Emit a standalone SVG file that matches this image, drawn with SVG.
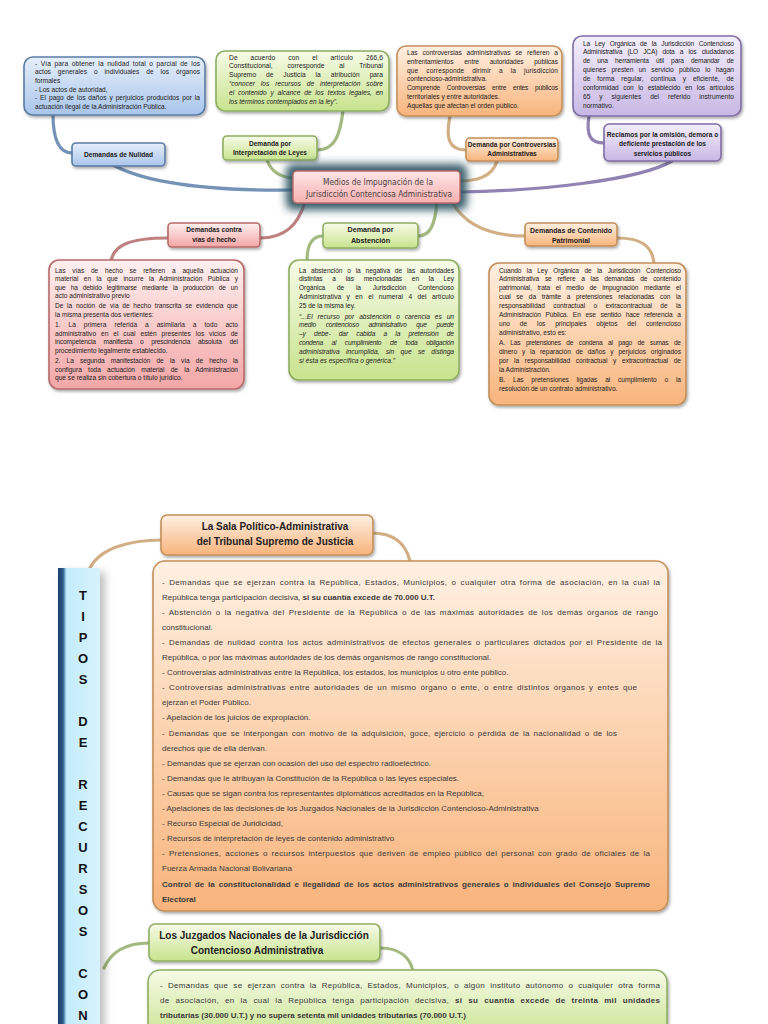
<svg xmlns="http://www.w3.org/2000/svg" width="768" height="1024" viewBox="0 0 768 1024">
<style>
.t{font-family:"Liberation Sans",Arial,sans-serif;font-size:6.6px;fill:#222}
.i{font-style:italic}
.lb{font-family:"Liberation Sans",Arial,sans-serif;font-size:6.6px;font-weight:bold;fill:#1a1a1a;text-anchor:middle}
.ct{font-family:"DejaVu Sans Condensed","Liberation Sans",sans-serif;font-size:8.6px;fill:#4a4040;text-anchor:middle}
.bt{font-family:"Liberation Sans",Arial,sans-serif;font-size:8px;fill:#3a3a3a}
.hd{font-family:"Liberation Sans",Arial,sans-serif;font-size:10px;font-weight:bold;fill:#222;text-anchor:middle}
.col{font-family:"Liberation Sans",Arial,sans-serif;font-size:13px;font-weight:900;fill:#111;text-anchor:middle}
.b{font-weight:bold}
.j{word-spacing:1.5px}
.c{fill:none;stroke-width:3.2;stroke-linecap:round;opacity:.85}
.cb{stroke:#5b7fa8}.cg{stroke:#93ad6a}.co{stroke:#c9a06e}.cp{stroke:#7c6ca4}.cr{stroke:#b46a6a}
.nb{fill:url(#gB);stroke:#5b7ca6;stroke-width:1.6;filter:url(#sh)}
.ng{fill:url(#gG);stroke:#8fae62;stroke-width:1.6;filter:url(#sh)}
.no{fill:url(#gO);stroke:#c48f5a;stroke-width:1.6;filter:url(#sh)}
.np{fill:url(#gP);stroke:#7f6ea6;stroke-width:1.6;filter:url(#sh)}
.nr{fill:url(#gR);stroke:#b86a6a;stroke-width:1.6;filter:url(#sh)}
</style>
<defs>
<filter id="sh" x="-10%" y="-10%" width="125%" height="135%"><feDropShadow dx="1.2" dy="1.8" stdDeviation="1.4" flood-color="#000" flood-opacity="0.35"/></filter>
<filter id="glow" x="-30%" y="-60%" width="160%" height="220%"><feGaussianBlur stdDeviation="4.5"/></filter>
<linearGradient id="gB" x1="0" y1="0" x2="0" y2="1"><stop offset="0" stop-color="#e6effb"/><stop offset="1" stop-color="#a9c5eb"/></linearGradient>
<linearGradient id="gG" x1="0" y1="0" x2="0" y2="1"><stop offset="0" stop-color="#f7fbe8"/><stop offset="1" stop-color="#c8e38e"/></linearGradient>
<linearGradient id="gO" x1="0" y1="0" x2="0" y2="1"><stop offset="0" stop-color="#fff0e2"/><stop offset="1" stop-color="#f8b47c"/></linearGradient>
<linearGradient id="gP" x1="0" y1="0" x2="0" y2="1"><stop offset="0" stop-color="#f4effb"/><stop offset="1" stop-color="#c8b7e5"/></linearGradient>
<linearGradient id="gR" x1="0" y1="0" x2="0" y2="1"><stop offset="0" stop-color="#fff0f0"/><stop offset="1" stop-color="#f3a6a6"/></linearGradient>
<linearGradient id="gC" x1="0" y1="0" x2="0" y2="1"><stop offset="0" stop-color="#ffe6e6"/><stop offset="1" stop-color="#f6b0b0"/></linearGradient>
<linearGradient id="gCol" x1="0" y1="0" x2="1" y2="0"><stop offset="0" stop-color="#1d3d6d"/><stop offset="0.12" stop-color="#2a5a8a"/><stop offset="0.2" stop-color="#c4ecfc"/><stop offset="1" stop-color="#d6f3fd"/></linearGradient>
</defs>
<rect width="768" height="1024" fill="#fff"/>

<g id="connectors">
<path class="c cb" d="M53,114 C53,140 60,153 72,153"/>
<path class="c cb" d="M113,165 C150,185 220,191 296,190"/>
<path class="c cg" d="M343,111 C340,135 335,150 317,150"/>
<path class="c cg" d="M267,160 C272,174 284,178 296,178"/>
<path class="c co" d="M450,116 C445,140 450,150 466,150"/>
<path class="c co" d="M497,161 C492,178 475,181 458,181"/>
<path class="c cp" d="M589,116 C586,135 590,143 604,143"/>
<path class="c cp" d="M672,161 C640,180 540,191 458,192"/>
<path class="c cr" d="M305,202 C298,225 285,238 260,238"/>
<path class="c cr" d="M168,238 C130,238 114,245 111,261"/>
<path class="c cg" d="M437,202 C435,225 430,236 418,236"/>
<path class="c cg" d="M323,236 C312,236 307,245 307,261"/>
<path class="c co" d="M452,202 C465,225 490,236 525,236"/>
<path class="c co" d="M617,238 C640,238 652,245 654,263"/>
<path class="c co" d="M90,568 C100,548 130,540 162,540"/>
<path class="c co" d="M372,533 C395,533 406,545 410,561"/>
<path class="c cg" d="M104,968 C112,950 128,943 149,943"/>
<path class="c cg" d="M380,948 C400,948 410,958 413,971"/>
</g>

<g id="n-nulidad-text">
<rect class="nb" x="24" y="57" width="181" height="58" rx="9"/>
<text class="t" x="35" y="65.5" style="word-spacing:1.5px" textLength="165" lengthAdjust="spacing">- Vía para obtener la nulidad total o parcial de los</text>
<text class="t" x="35" y="74.2" style="word-spacing:5px" textLength="165" lengthAdjust="spacing">actos generales o individuales de los órganos</text>
<text class="t" x="35" y="82.9">formales</text>
<text class="t" x="35" y="91.6">- Los actos de autoridad,</text>
<text class="t" x="35" y="100.3" style="word-spacing:1px" textLength="165" lengthAdjust="spacing">- El pago de los daños y perjuicios producidos por la</text>
<text class="t" x="35" y="109">actuación ilegal de la Administración Pública.</text>
</g>

<g id="n-interpretacion-text">
<rect class="ng" x="216" y="51" width="173" height="60" rx="9"/>
<text class="t" x="229" y="59.5" style="word-spacing:11px" textLength="154" lengthAdjust="spacing">De acuerdo con el artículo 266,6</text>
<text class="t" x="229" y="68.3" style="word-spacing:13px" textLength="154" lengthAdjust="spacing">Constitucional, corresponde al Tribunal</text>
<text class="t" x="229" y="77.1" style="word-spacing:8px" textLength="154" lengthAdjust="spacing">Supremo de Justicia la atribución para</text>
<text class="t i" x="229" y="85.9" style="word-spacing:4px" textLength="154" lengthAdjust="spacing">“conocer los recursos de interpretación sobre</text>
<text class="t i" x="229" y="94.7" style="word-spacing:2px" textLength="154" lengthAdjust="spacing">el contenido y alcance de los textos legales, en</text>
<text class="t i" x="229" y="103.5">los términos contemplados en la ley”.</text>
</g>

<g id="n-controversias-text">
<rect class="no" x="397" y="46" width="165" height="70" rx="9"/>
<text class="t" x="407" y="55" style="word-spacing:3px" textLength="151" lengthAdjust="spacing">Las controversias administrativas se refieren a</text>
<text class="t" x="407" y="63.8" style="word-spacing:9px" textLength="151" lengthAdjust="spacing">enfrentamientos entre autoridades públicas</text>
<text class="t" x="407" y="72.6" style="word-spacing:6px" textLength="151" lengthAdjust="spacing">que corresponde dirimir a la jurisdicción</text>
<text class="t" x="407" y="81.4">contencioso-administrativa.</text>
<text class="t" x="407" y="90.2" style="word-spacing:5px" textLength="151" lengthAdjust="spacing">Comprende Controversias entre entes públicos</text>
<text class="t" x="407" y="99">territoriales y entre autoridades.</text>
<text class="t" x="407" y="107.8">Aquellas que afectan el orden público.</text>
</g>

<g id="n-reclamos-text">
<rect class="np" x="573" y="36" width="168" height="80" rx="9"/>
<text class="t" x="583" y="45.5" style="word-spacing:3px" textLength="151" lengthAdjust="spacing">La Ley Orgánica de la Jurisdicción Contencioso</text>
<text class="t" x="583" y="54.4" style="word-spacing:3.5px" textLength="151" lengthAdjust="spacing">Administrativa (LO JCA) dota a los ciudadanos</text>
<text class="t" x="583" y="63.3" style="word-spacing:5.5px" textLength="151" lengthAdjust="spacing">de una herramienta útil para demandar de</text>
<text class="t" x="583" y="72.2" style="word-spacing:3.5px" textLength="151" lengthAdjust="spacing">quienes presten un servicio público lo hagan</text>
<text class="t" x="583" y="81.1" style="word-spacing:5px" textLength="151" lengthAdjust="spacing">de forma regular, continua y eficiente, de</text>
<text class="t" x="583" y="90" style="word-spacing:2.8px" textLength="151" lengthAdjust="spacing">conformidad con lo establecido en los artículos</text>
<text class="t" x="583" y="98.9" style="word-spacing:7px" textLength="151" lengthAdjust="spacing">65 y siguientes del referido instrumento</text>
<text class="t" x="583" y="107.8">normativo.</text>
</g>

<g id="l-nulidad">
<rect class="nb" x="72" y="143" width="93" height="23" rx="4"/>
<text class="lb" x="118.5" y="157">Demandas de Nulidad</text>
</g>
<g id="l-interpretacion">
<rect class="ng" x="223" y="136" width="94" height="24" rx="4"/>
<text class="lb" x="270" y="145.5">Demanda por</text>
<text class="lb" x="270" y="155">Interpretación de Leyes</text>
</g>
<g id="l-controversias">
<rect class="no" x="466" y="138" width="92" height="23" rx="4"/>
<text class="lb" x="512" y="146.8">Demanda por Controversias</text>
<text class="lb" x="512" y="156.3">Administrativas</text>
</g>
<g id="l-reclamos">
<rect class="np" x="604" y="124" width="117" height="37" rx="5"/>
<text class="lb" x="662.5" y="136.5">Reclamos por la omisión, demora o</text>
<text class="lb" x="662.5" y="146.3">deficiente prestación de los</text>
<text class="lb" x="662.5" y="156">servicios públicos</text>
</g>

<g id="center">
<rect x="286" y="164" width="181" height="46" rx="7" fill="#2a5361" opacity="0.95" filter="url(#glow)"/>
<rect x="293" y="171" width="167" height="32" rx="4" fill="url(#gC)" stroke="#c46a6a" stroke-width="1.4"/>
<text class="ct" x="378" y="184.5" textLength="110" lengthAdjust="spacingAndGlyphs">Medios de Impugnación de la</text>
<text class="ct" x="379" y="197" textLength="146" lengthAdjust="spacingAndGlyphs">Jurisdicción Contenciosa Administrativa</text>
</g>

<g id="l-vias">
<rect class="nr" x="168" y="223" width="92" height="24" rx="4"/>
<text class="lb" x="214" y="231.5">Demandas contra</text>
<text class="lb" x="214" y="242">vías de hecho</text>
</g>
<g id="l-abstencion">
<rect class="ng" x="323" y="223" width="95" height="25" rx="4"/>
<text class="lb" x="370.5" y="232" style="font-size:7.2px">Demanda por</text>
<text class="lb" x="370.5" y="242.5" style="font-size:7.2px">Abstención</text>
</g>
<g id="l-patrimonial">
<rect class="no" x="525" y="223" width="92" height="23" rx="4"/>
<text class="lb" x="571" y="232.5" style="font-size:7px">Demandas de Contenido</text>
<text class="lb" x="571" y="242.5" style="font-size:7px">Patrimonial</text>
</g>

<g id="n-vias-text">
<rect class="nr" x="49" y="260" width="195" height="129" rx="10"/>
<text class="t" x="55" y="272.5" style="word-spacing:5px" textLength="183" lengthAdjust="spacing">Las vías de hecho se refieren a aquella actuación</text>
<text class="t" x="55" y="281.1" style="word-spacing:3.5px" textLength="183" lengthAdjust="spacing">material en la que incurre la Administración Pública y</text>
<text class="t" x="55" y="289.7" style="word-spacing:3.5px" textLength="183" lengthAdjust="spacing">que ha debido legitimarse mediante la producción de un</text>
<text class="t" x="55" y="298.3">acto administrativo previo</text>
<text class="t" x="55" y="308.4" style="word-spacing:2px" textLength="183" lengthAdjust="spacing">De la noción de vía de hecho transcrita se evidencia que</text>
<text class="t" x="55" y="317">la misma presenta dos vertientes:</text>
<text class="t" x="55" y="327.1" style="word-spacing:6px" textLength="183" lengthAdjust="spacing">1. La primera referida a asimilarla a todo acto</text>
<text class="t" x="55" y="335.7" style="word-spacing:3px" textLength="183" lengthAdjust="spacing">administrativo en el cual estén presentes los vicios de</text>
<text class="t" x="55" y="344.3" style="word-spacing:6px" textLength="183" lengthAdjust="spacing">incompetencia manifiesta o prescindencia absoluta del</text>
<text class="t" x="55" y="352.9">procedimiento legalmente establecido.</text>
<text class="t" x="55" y="363" style="word-spacing:4.5px" textLength="183" lengthAdjust="spacing">2. La segunda manifestación de la vía de hecho la</text>
<text class="t" x="55" y="371.6" style="word-spacing:4.5px" textLength="183" lengthAdjust="spacing">configura toda actuación material de la Administración</text>
<text class="t" x="55" y="380.2">que se realiza sin cobertura o título jurídico.</text>
</g>

<g id="n-abstencion-text">
<rect class="ng" x="289" y="260" width="170" height="120" rx="10"/>
<text class="t" x="299" y="272.5" style="word-spacing:3px" textLength="155" lengthAdjust="spacing">La abstención o la negativa de las autoridades</text>
<text class="t" x="299" y="281.4" style="word-spacing:8px" textLength="155" lengthAdjust="spacing">distintas a las mencionadas en la Ley</text>
<text class="t" x="299" y="290.3" style="word-spacing:10px" textLength="155" lengthAdjust="spacing">Orgánica de la Jurisdicción Contencioso</text>
<text class="t" x="299" y="299.2" style="word-spacing:3.5px" textLength="155" lengthAdjust="spacing">Administrativa y en el numeral 4 del artículo</text>
<text class="t" x="299" y="308.1">25 de la misma ley.</text>
<text class="t i" x="299" y="318.5" style="word-spacing:3px" textLength="155" lengthAdjust="spacing">“...El recurso por abstención o carencia es un</text>
<text class="t i" x="299" y="327.4" style="word-spacing:8px" textLength="155" lengthAdjust="spacing">medio contencioso administrativo que puede</text>
<text class="t i" x="299" y="336.3" style="word-spacing:6.5px" textLength="155" lengthAdjust="spacing">–y debe- dar cabida a la pretensión de</text>
<text class="t i" x="299" y="345.2" style="word-spacing:7px" textLength="155" lengthAdjust="spacing">condena al cumplimiento de toda obligación</text>
<text class="t i" x="299" y="354.1" style="word-spacing:4.5px" textLength="155" lengthAdjust="spacing">administrativa incumplida, sin que se distinga</text>
<text class="t i" x="299" y="363">si ésta es específica o genérica.”</text>
</g>

<g id="n-patrimonial-text">
<rect class="no" x="489" y="263" width="197" height="142" rx="10"/>
<text class="t" x="499" y="272.5" style="word-spacing:4px" textLength="182" lengthAdjust="spacing">Cuando la Ley Orgánica de la Jurisdicción Contencioso</text>
<text class="t" x="499" y="281.4" style="word-spacing:4px" textLength="182" lengthAdjust="spacing">Administrativa se refiere a las demandas de contenido</text>
<text class="t" x="499" y="290.3" style="word-spacing:4px" textLength="182" lengthAdjust="spacing">patrimonial, trata el medio de impugnación mediante el</text>
<text class="t" x="499" y="299.2" style="word-spacing:4px" textLength="182" lengthAdjust="spacing">cual se da trámite a pretensiones relacionadas con la</text>
<text class="t" x="499" y="308.1" style="word-spacing:6.5px" textLength="182" lengthAdjust="spacing">responsabilidad contractual o extracontractual de la</text>
<text class="t" x="499" y="317" style="word-spacing:3px" textLength="182" lengthAdjust="spacing">Administración Pública. En ese sentido hace referencia a</text>
<text class="t" x="499" y="325.9" style="word-spacing:8px" textLength="182" lengthAdjust="spacing">uno de los principales objetos del contencioso</text>
<text class="t" x="499" y="334.8">administrativo, esto es:</text>
<text class="t" x="499" y="345.2" style="word-spacing:4px" textLength="182" lengthAdjust="spacing">A. Las pretensiones de condena al pago de sumas de</text>
<text class="t" x="499" y="354.1" style="word-spacing:3px" textLength="182" lengthAdjust="spacing">dinero y la reparación de daños y perjuicios originados</text>
<text class="t" x="499" y="363" style="word-spacing:4px" textLength="182" lengthAdjust="spacing">por la responsabilidad contractual y extracontractual de</text>
<text class="t" x="499" y="371.9">la Administración.</text>
<text class="t" x="499" y="382.3" style="word-spacing:6px" textLength="182" lengthAdjust="spacing">B. Las pretensiones ligadas al cumplimiento o la</text>
<text class="t" x="499" y="391.2">resolución de un contrato administrativo.</text>
</g>

<g id="tipos-column">
<rect x="60" y="570" width="42" height="470" fill="#000" opacity="0.25" transform="translate(3,2)" filter="url(#glow)"/>
<rect x="58" y="568" width="42" height="470" fill="url(#gCol)"/>
<text class="col" x="83" y="599.5">T</text>
<text class="col" x="83" y="620.5">I</text>
<text class="col" x="83" y="641.5">P</text>
<text class="col" x="83" y="662.5">O</text>
<text class="col" x="83" y="683.5">S</text>
<text class="col" x="83" y="725.5">D</text>
<text class="col" x="83" y="746.5">E</text>
<text class="col" x="83" y="788.5">R</text>
<text class="col" x="83" y="809.5">E</text>
<text class="col" x="83" y="830.5">C</text>
<text class="col" x="83" y="851.5">U</text>
<text class="col" x="83" y="872.5">R</text>
<text class="col" x="83" y="893.5">S</text>
<text class="col" x="83" y="914.5">O</text>
<text class="col" x="83" y="935.5">S</text>
<text class="col" x="83" y="977.5">C</text>
<text class="col" x="83" y="998.5">O</text>
<text class="col" x="83" y="1019.5">N</text>
</g>

<g id="l-sala">
<rect class="no" x="161" y="515" width="212" height="40" rx="6"/>
<text class="hd" x="275" y="529.5">La Sala Político-Administrativa</text>
<text class="hd" x="275" y="545">del Tribunal Supremo de Justicia</text>
</g>

<g id="n-sala-text">
<rect class="no" x="153" y="561" width="515" height="350" rx="12"/>
<text class="bt j" x="162" y="584.5" textLength="498" lengthAdjust="spacing">- Demandas que se ejerzan contra la República, Estados, Municipios, o  cualquier otra forma de asociación, en la cual la</text>
<text class="bt" x="162" y="599.6">República tenga participación decisiva, <tspan class="b">si su cuantía excede de 70.000 U.T.</tspan></text>
<text class="bt j" x="162" y="614.7" textLength="496" lengthAdjust="spacing">- Abstención o la negativa del Presidente de la República o de las máximas autoridades de los demás órganos de rango</text>
<text class="bt" x="162" y="629.8">constitucional.</text>
<text class="bt j" x="162" y="644.9" textLength="500" lengthAdjust="spacing">- Demandas de nulidad contra los actos administrativos de efectos generales o particulares dictados por el Presidente de la</text>
<text class="bt" x="162" y="660">República, o por las máximas autoridades de los demás organismos de rango constitucional.</text>
<text class="bt" x="162" y="675.1">- Controversias administrativas entre la República, los estados, los municipios u otro ente público.</text>
<text class="bt j" x="162" y="690.2" textLength="475" lengthAdjust="spacing">- Controversias administrativas entre autoridades de un mismo órgano o ente, o entre distintos órganos y entes que</text>
<text class="bt" x="162" y="705.3">ejerzan el Poder Público.</text>
<text class="bt" x="162" y="720.4">- Apelación de los juicios de expropiación.</text>
<text class="bt j" x="162" y="735.5" textLength="455" lengthAdjust="spacing">- Demandas que se interpongan con motivo de la adquisición, goce, ejercicio o pérdida de la nacionalidad o de los</text>
<text class="bt" x="162" y="750.6">derechos que de ella derivan.</text>
<text class="bt" x="162" y="765.7">- Demandas que se ejerzan con ocasión del uso del espectro radioeléctrico.</text>
<text class="bt" x="162" y="780.8">- Demandas que le atribuyan la Constitución de la República o las leyes especiales.</text>
<text class="bt" x="162" y="795.9">- Causas que se sigan contra los representantes diplomáticos acreditados en la República,</text>
<text class="bt" x="162" y="811">- Apelaciones de las decisiones de los Juzgados Nacionales de la Jurisdicción Contencioso-Administrativa</text>
<text class="bt" x="162" y="826.1">- Recurso Especial de Juridicidad,</text>
<text class="bt" x="162" y="841.2">- Recursos de interpretación de leyes de contenido administrativo</text>
<text class="bt j" x="162" y="856.3" textLength="488" lengthAdjust="spacing">- Pretensiones, acciones o recursos interpuestos que  deriven de empleo público del personal con grado de oficiales de la</text>
<text class="bt" x="162" y="871.4">Fuerza Armada Nacional Bolivariana</text>
<text class="bt b j" x="162" y="886.5" textLength="488" lengthAdjust="spacing">Control de la constitucionalidad e ilegalidad de los actos administrativos generales o individuales del Consejo Supremo</text>
<text class="bt b" x="162" y="901.6">Electoral</text>
</g>

<g id="l-juzgados">
<rect class="ng" x="149" y="924" width="231" height="37" rx="6"/>
<text class="hd" x="264" y="938.5">Los Juzgados Nacionales de la Jurisdicción</text>
<text class="hd" x="257" y="954">Contencioso Administrativa</text>
</g>

<g id="n-juzgados-text">
<rect class="ng" x="148" y="970" width="519" height="70" rx="12"/>
<text class="bt" x="160" y="988" style="word-spacing:2.5px" textLength="500" lengthAdjust="spacing">- Demandas que se ejerzan contra la República, Estados, Municipios, o algún instituto autónomo o cualquier otra forma</text>
<text class="bt" x="160" y="1003.1" style="word-spacing:3.5px" textLength="500" lengthAdjust="spacing">de asociación, en la cual la República tenga participación decisiva, <tspan class="b">si su cuantía excede de treinta mil unidades</tspan></text>
<text class="bt b" x="160" y="1018.2">tributarias (30.000 U.T.) y no supera setenta mil unidades tributarias (70.000 U.T.)</text>
</g>
</svg>
